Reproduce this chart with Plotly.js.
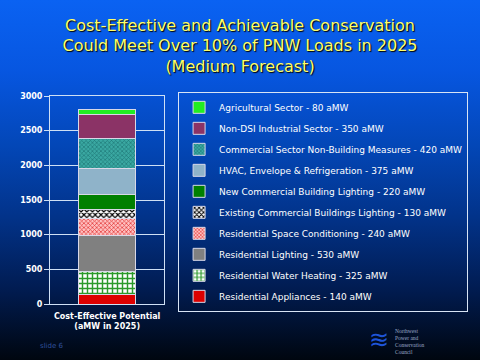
<!DOCTYPE html>
<html><head><meta charset="utf-8">
<script src="https://cdn.plot.ly/plotly-3.0.1.min.js"></script>
<style>
html,body{margin:0;padding:0;width:480px;height:360px;overflow:hidden;}
body{background:linear-gradient(to bottom,#0a62f2 0%,#0756e0 20%,#0347b8 40%,#02338a 60%,#011c52 80%,#00060f 100%);}
#chart{width:480px;height:360px;}
</style></head><body>
<div id="chart"></div>
<script>
const category = ["Cost-Effective Potential<br>(aMW in 2025)"];
const seriesNames = [
  "Residential Appliances - 140 aMW",
  "Residential Water Heating - 325 aMW",
  "Residential Lighting - 530 aMW",
  "Residential Space Conditioning - 240 aMW",
  "Existing Commercial Buildings Lighting - 130 aMW",
  "New Commercial Building Lighting - 220 aMW",
  "HVAC, Envelope & Refrigeration - 375 aMW",
  "Commercial Sector Non-Building Measures - 420 aMW",
  "Non-DSI Industrial Sector - 350 aMW",
  "Agricultural Sector - 80 aMW"
];
const seriesValues = [140, 325, 530, 240, 130, 220, 375, 420, 350, 80];
const yTickValues = [0, 500, 1000, 1500, 2000, 2500, 3000];

const styles = [
  {color:"#dd0000"},
  {color:"#ffffff", pattern:{shape:"+", fgcolor:"#2a9a2a", bgcolor:"#ffffff", size:5, solidity:0.5}},
  {color:"#808080"},
  {color:"#ff9090", pattern:{shape:"x", fgcolor:"#e03030", bgcolor:"#ffc0c0", size:3, solidity:0.4}},
  {color:"#ffffff", pattern:{shape:"x", fgcolor:"#000000", bgcolor:"#ffffff", size:4, solidity:0.5}},
  {color:"#008000"},
  {color:"#8fb3c9"},
  {color:"#339a96", pattern:{shape:"x", fgcolor:"#1f7a78", bgcolor:"#3aa8a2", size:3, solidity:0.4}},
  {color:"#8b3366"},
  {color:"#22ee22"}
];

const traces = seriesNames.map((n,i)=>({
  type:"bar", name:n, x:category, y:[seriesValues[i]],
  width:0.5, legendgroup:"g"+i, legendrank:100-i,
  marker:Object.assign({line:{color:"#d8d8e8", width:1}}, styles[i]),
  hoverinfo:"none"
}));

const layout = {
  width:480, height:360,
  paper_bgcolor:"rgba(0,0,0,0)", plot_bgcolor:"rgba(0,0,0,0)",
  margin:{l:50, r:18, t:96, b:56},
  barmode:"stack",
  title:{text:"Cost-Effective and Achievable Conservation<br>Could Meet Over 10% of PNW Loads in 2025<br>(Medium Forecast)",
    font:{family:"DejaVu Sans", size:16, color:"#ffff66", shadow:"1px 1px 1px #000000"},
    x:0.5, xanchor:"center", y:0.915, yanchor:"top"},
  xaxis:{domain:[0,0.2816], showline:true, mirror:true, linecolor:"#cfe0f5", linewidth:1,
    tickfont:{family:"DejaVu Sans", size:8, color:"#ffffff", weight:"bold"}, ticks:"", showgrid:false, ticklabelstandoff:4},
  yaxis:{range:[0,3000], tickvals:yTickValues, showline:true, mirror:true, linecolor:"#cfe0f5", linewidth:1,
    gridcolor:"#cfe0f5", gridwidth:1, ticks:"outside", ticklen:5, tickcolor:"#cfe0f5",
    tickfont:{family:"DejaVu Sans", size:8, color:"#ffffff", weight:"bold"}, zeroline:false},
  legend:{x:0.3155, xanchor:"left", y:1.02, yanchor:"top", traceorder:"grouped", tracegroupgap:2, maxheight:300,
    bgcolor:"rgba(0,0,0,0)", bordercolor:"#d8e4f5", borderwidth:1,
    font:{family:"DejaVu Sans", size:9, color:"#ffffff"}},
  annotations:[
    {text:"slide 6", xref:"paper", yref:"paper", x:-0.03, y:-0.2, xanchor:"left", yanchor:"middle",
     showarrow:false, font:{family:"DejaVu Sans", size:7, color:"#2f4f9a"}},
    {text:"≋", xref:"paper", yref:"paper", x:0.78, y:-0.095, xanchor:"left", yanchor:"top",
     showarrow:false, font:{family:"DejaVu Sans", size:24, color:"#1f55d8"}},
    {text:"Northwest<br>Power and<br>Conservation<br>Council", xref:"paper", yref:"paper", x:0.845, y:-0.105, xanchor:"left", yanchor:"top",
     showarrow:false, align:"left", font:{family:"Liberation Serif", size:5.5, color:"#9aa8c8"}}
  ],
  showlegend:true
};
Plotly.newPlot("chart", traces, layout, {displayModeBar:false, staticPlot:true});
</script></body></html>
